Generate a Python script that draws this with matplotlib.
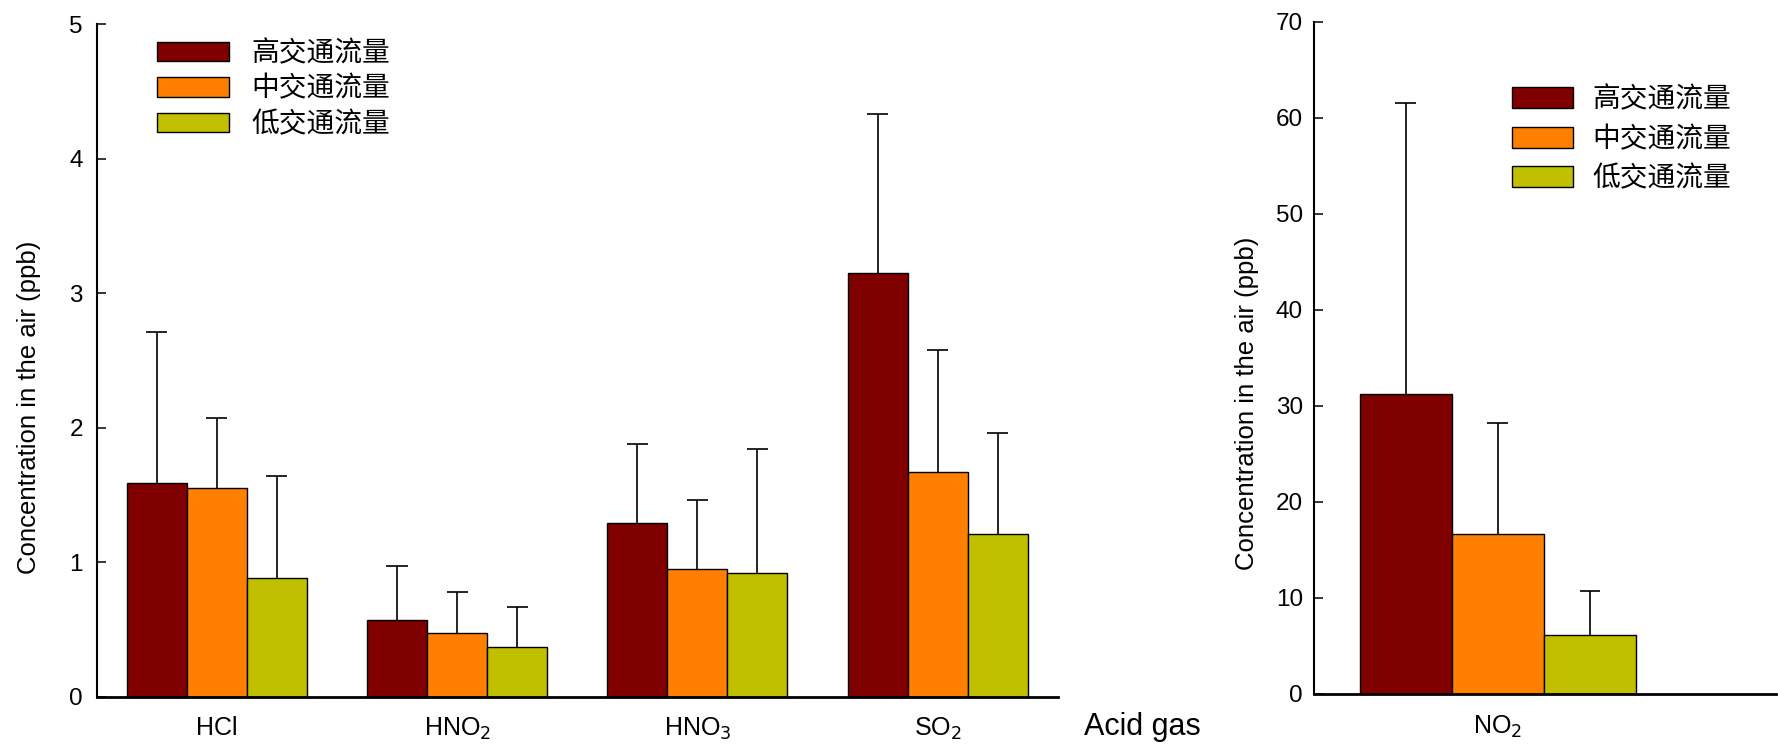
import matplotlib
matplotlib.use("Agg")
import matplotlib.pyplot as plt
import numpy as np

plt.rcParams["font.family"] = ["Liberation Sans", "DejaVu Sans"]

# Données
groupes = ["HCl", r"HNO$_2$", r"HNO$_3$", r"SO$_2$"]
series = ["高交通流量", "中交通流量", "低交通流量"]
couleurs = ["#800000", "#FF8000", "#C0C000"]

haut = [1.59, 0.57, 1.29, 3.15]
moyen = [1.55, 0.47, 0.95, 1.67]
bas = [0.88, 0.37, 0.92, 1.21]
haut_err = [1.12, 0.40, 0.59, 1.18]
moyen_err = [0.52, 0.31, 0.51, 0.91]
bas_err = [0.76, 0.30, 0.92, 0.75]

no2 = [31.2, 16.7, 6.1]
no2_err = [30.3, 11.5, 4.6]

cjk = ["Noto Sans CJK SC", "DejaVu Sans"]


def barre_erreur(ax, pos, val, err, demi_cap):
    # seulement la moitié haute, avec un trait horizontal en haut
    pos = np.asarray(pos, dtype=float)
    haut_barre = np.asarray(val) + np.asarray(err)
    ax.vlines(pos, val, haut_barre, colors="black", linewidth=1.2, zorder=1)
    ax.hlines(haut_barre, pos - demi_cap, pos + demi_cap, colors="black",
              linewidth=1.2, zorder=1)


fig = plt.figure(figsize=(17.78, 7.47), dpi=100)
ax1 = fig.add_axes([0.0544, 0.0673, 0.5405, 0.9005])
ax2 = fig.add_axes([0.739, 0.0710, 0.2598, 0.900])

largeur = 0.25
x = np.arange(len(groupes))
valeurs = [haut, moyen, bas]
erreurs = [haut_err, moyen_err, bas_err]
for i in range(3):
    pos = x + (i - 1) * largeur
    ax1.bar(pos, valeurs[i], largeur, color=couleurs[i], edgecolor="black",
            linewidth=1, label=series[i], zorder=2)
    barre_erreur(ax1, pos, valeurs[i], erreurs[i], 0.044)

ax1.set_xlim(-0.5, 3.5)
ax1.set_ylim(0, 5)
ax1.set_yticks([0, 1, 2, 3, 4, 5])
ax1.set_xticks(x)
ax1.set_xticklabels(groupes, fontsize=18)
ax1.text(1.088, -0.045, "Acid gas", transform=ax1.transAxes, fontsize=22,
         ha="center", va="center")
ax1.set_ylabel("Concentration in the air (ppb)", fontsize=18.5)
ax1.yaxis.set_label_coords(-0.0585, 0.43)

pos2 = (np.arange(3) - 1) * largeur
for i in range(3):
    ax2.bar(pos2[i], no2[i], largeur, color=couleurs[i],
            edgecolor="black", linewidth=1, label=series[i], zorder=2)
barre_erreur(ax2, pos2, no2, no2_err, 0.0285)

ax2.set_xlim(-0.5, 0.755)
ax2.set_ylim(0, 70)
ax2.set_yticks(range(0, 71, 10))
ax2.set_xticks([0])
ax2.set_xticklabels([r"NO$_2$"], fontsize=18)
ax2.set_ylabel("Concentration in the air (ppb)", fontsize=18.5)
ax2.yaxis.set_label_coords(-0.118, 0.433)

for ax, pad in [(ax1, 10), (ax2, 8)]:
    ax.spines["top"].set_visible(False)
    ax.spines["right"].set_visible(False)
    ax.spines["left"].set_linewidth(1.5)
    ax.spines["bottom"].set_linewidth(2)
    ax.tick_params(axis="y", direction="in", length=6.5, width=1.1,
                   labelsize=17.5, pad=pad)
    ax.tick_params(axis="x", length=0, pad=14)

leg1 = ax1.legend(loc="upper left", bbox_to_anchor=(0.0883, 0.949),
                  bbox_transform=fig.transFigure, frameon=False,
                  prop={"family": cjk, "size": 20}, borderpad=0,
                  borderaxespad=0, handlelength=2.6, handleheight=0.7,
                  handletextpad=0.8, labelspacing=0.2)
leg2 = ax2.legend(loc="upper left", bbox_to_anchor=(0.8504, 0.887),
                  bbox_transform=fig.transFigure, frameon=False,
                  prop={"family": cjk, "size": 20}, borderpad=0,
                  borderaxespad=0, handlelength=2.2, handleheight=0.8,
                  handletextpad=0.7, labelspacing=0.34)

fig.savefig("out.png", dpi=100)
